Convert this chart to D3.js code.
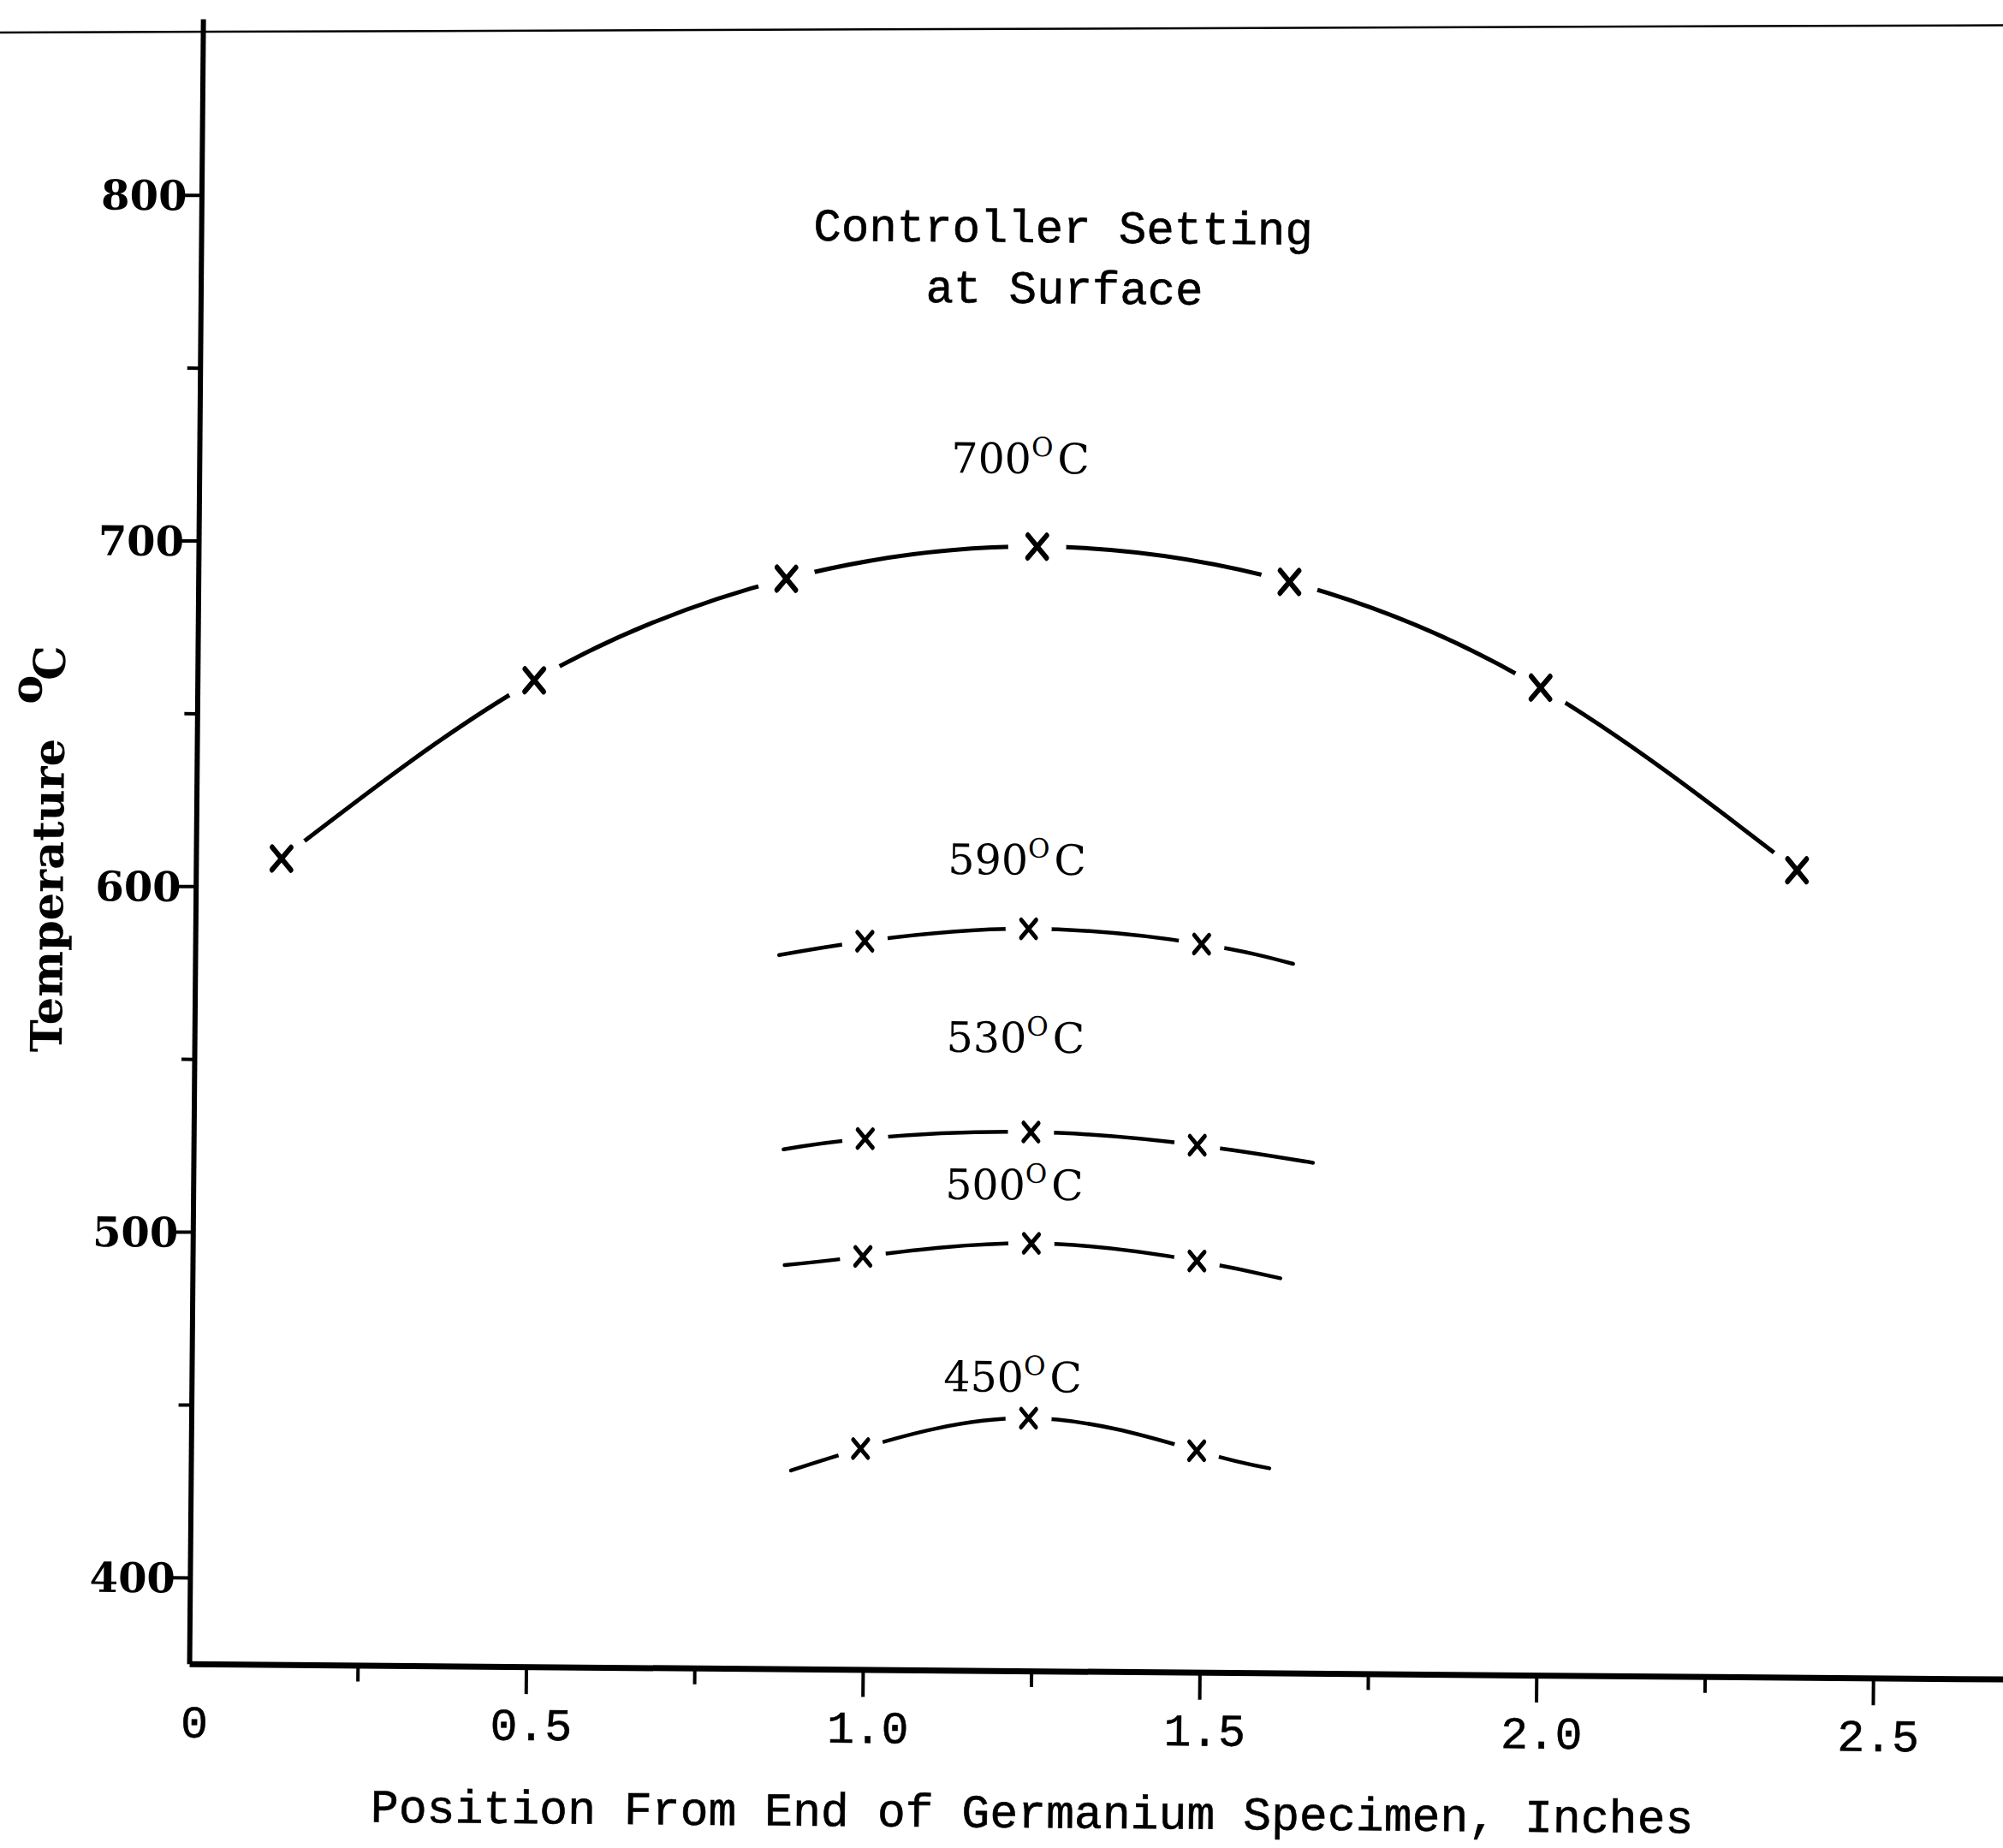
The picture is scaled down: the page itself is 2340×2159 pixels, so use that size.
<!DOCTYPE html>
<html>
<head>
<meta charset="utf-8">
<script src="https://cdn.jsdelivr.net/npm/d3@7"></script>
<style>
  body { margin: 0; background: #fff; }
  svg { display: block; }
</style>
</head>
<body>
<svg id="chart"></svg>
<script>
// readings: position (inches) and temperature (deg C)
const pos700 = [0.127, 0.5, 0.873, 1.245, 1.62, 1.994, 2.377]
const temp700 = [608.2, 660.4, 690.4, 700.3, 690.7, 660.7, 608.5]

const pos590 = [0.994, 1.237, 1.494]
const temp590 = [585.7, 589.7, 585.7]
const ends590 = [[0.867, 581.5], [1.630, 580.2]]

const pos530 = [0.997, 1.243, 1.490]
const temp530 = [528.6, 530.9, 527.5]
const ends530 = [[0.876, 525.3], [1.662, 522.7]]

const pos500 = [0.995, 1.245, 1.491]
const temp500 = [494.5, 498.7, 494.0]
const ends500 = [[0.879, 491.8], [1.615, 489.2]]

const pos450 = [0.994, 1.243, 1.493]
const temp450 = [438.9, 448.1, 439.1]
const ends450 = [[0.891, 432.4], [1.601, 434.2]]

const settings = ['700', '590', '530', '500', '450']
const labelPos = [1.219, 1.219, 1.219, 1.219, 1.219]
const labelTemp = [721.5, 605.4, 553.9, 511.3, 455.7]

const xMajorTicks = [0, 0.5, 1.0, 1.5, 2.0, 2.5]
const xMinorTicks = [0.25, 0.75, 1.25, 1.75, 2.25]
const yMajorTicks = [400, 500, 600, 700, 800]
const yMinorTicks = [450, 550, 650, 750]

const width = 2340
const height = 2159

const svg = d3.select('#chart')
    .attr('width', width)
    .attr('height', height)

svg.append('rect')
    .attr('width', width)
    .attr('height', height)
    .attr('fill', '#fff')

// page edge of the scan, not part of the rotated sheet
svg.append('line')
    .attr('x1', 0).attr('y1', 38)
    .attr('x2', width).attr('y2', 29.5)
    .attr('stroke', '#000')
    .attr('stroke-width', 2.5)

// the sheet was scanned a little crooked
const g = svg.append('g').attr('transform', 'rotate(0.48,1200,1000)')

const x = d3.scaleLinear().domain([0, 2.71]).range([229, 2361.5])
const y = d3.scaleLinear().domain([375, 851]).range([1952, 30])

const serif = "'DejaVu Serif', serif"
const mono = "'Liberation Mono', 'Courier New', monospace"

// x axis
const xAxisG = g.append('g')
    .attr('transform', `translate(0,${y(375)})`)
    .call(d3.axisBottom(x)
        .tickValues(xMajorTicks)
        .tickSize(32)
        .tickSizeOuter(0)
        .tickPadding(16)
        .tickFormat(d => d === 0 ? '0' : d3.format('.1f')(d)))
xAxisG.select('.domain').attr('stroke-width', 7)
xAxisG.selectAll('.tick line').attr('stroke-width', 4)
xAxisG.selectAll('.tick line').filter(d => d === 0).remove()
xAxisG.selectAll('.tick text')
    .attr('dx', 6)
    .style('font-family', mono)
    .style('font-size', '53px')
    .attr('fill', '#000')
    .attr('stroke', '#000')
    .attr('stroke-width', 0.6)

const xMinorG = g.append('g')
    .attr('transform', `translate(0,${y(375)})`)
    .call(d3.axisBottom(x).tickValues(xMinorTicks).tickSize(19).tickFormat(''))
xMinorG.select('.domain').remove()
xMinorG.selectAll('.tick line').attr('stroke-width', 4)

// y axis
const yAxisG = g.append('g')
    .attr('transform', `translate(${x(0)},0)`)
    .call(d3.axisLeft(y)
        .tickValues(yMajorTicks)
        .tickSize(22)
        .tickSizeOuter(0)
        .tickPadding(-5))
yAxisG.select('.domain').attr('stroke-width', 6)
yAxisG.selectAll('.tick line').attr('stroke-width', 4)
yAxisG.selectAll('.tick text')
    .attr('dy', '0.36em')
    .style('font-family', serif)
    .style('font-weight', 'bold')
    .style('font-size', '48px')
    .attr('fill', '#000')

const yMinorG = g.append('g')
    .attr('transform', `translate(${x(0)},0)`)
    .call(d3.axisLeft(y).tickValues(yMinorTicks).tickSize(15).tickFormat(''))
yMinorG.select('.domain').remove()
yMinorG.selectAll('.tick line').attr('stroke-width', 4)

// curves: the line is broken round every plotted point
const series = [
    {pos: pos700, temp: temp700, ends: null, gap: 34, mark: 12, stroke: 5, markStroke: 6},
    {pos: pos590, temp: temp590, ends: ends590, gap: 27, mark: 9.5, stroke: 4.5, markStroke: 5},
    {pos: pos530, temp: temp530, ends: ends530, gap: 27, mark: 9.5, stroke: 4.5, markStroke: 5},
    {pos: pos500, temp: temp500, ends: ends500, gap: 27, mark: 9.5, stroke: 4.5, markStroke: 5},
    {pos: pos450, temp: temp450, ends: ends450, gap: 27, mark: 9.5, stroke: 4.5, markStroke: 5}
]

const mask = g.append('defs').append('mask')
    .attr('id', 'gaps')
    .attr('maskUnits', 'userSpaceOnUse')
    .attr('x', -200).attr('y', -200)
    .attr('width', 2800).attr('height', 2600)
mask.append('rect')
    .attr('x', -200).attr('y', -200)
    .attr('width', 2800).attr('height', 2600)
    .attr('fill', '#fff')

const line = d3.line()
    .x(d => x(d[0]))
    .y(d => y(d[1]))
    .curve(d3.curveNatural)

series.forEach(s => {
    let pts = s.pos.map((p, i) => [p, s.temp[i]])
    s.points = pts
    s.linePts = s.ends ? [s.ends[0]].concat(pts, [s.ends[1]]) : pts

    mask.selectAll(null)
        .data(pts)
        .enter()
        .append('circle')
        .attr('cx', d => x(d[0]))
        .attr('cy', d => y(d[1]))
        .attr('r', s.gap)
        .attr('fill', '#000')
})

const curves = g.append('g').attr('mask', 'url(#gaps)')
curves.selectAll('path')
    .data(series)
    .enter()
    .append('path')
    .attr('d', d => line(d.linePts))
    .attr('fill', 'none')
    .attr('stroke', '#000')
    .attr('stroke-width', d => d.stroke)
    .attr('stroke-linecap', 'round')

series.forEach(s => {
    let r = s.mark
    let size = Math.pow(r / 0.6189, 2) + 1.7
    g.append('g')
        .selectAll('path')
        .data(s.points)
        .enter()
        .append('path')
        .attr('d', d3.symbol().type(d3.symbolX).size(size))
        .attr('transform', d => `translate(${x(d[0])},${y(d[1])}) scale(0.92,1.1)`)
        .attr('fill', 'none')
        .attr('stroke', '#000')
        .attr('stroke-width', s.markStroke)
        .attr('stroke-linecap', 'round')
})

// setting labels
settings.forEach((t, i) => {
    let lbl = g.append('text')
        .attr('x', x(labelPos[i]))
        .attr('y', y(labelTemp[i]))
        .attr('text-anchor', 'middle')
        .style('font-family', serif)
        .style('font-size', '49px')
        .attr('fill', '#000')
    lbl.append('tspan').text(t)
    lbl.append('tspan').attr('dy', -20).style('font-size', '31px').text('O')
    lbl.append('tspan').attr('dy', 20).attr('dx', 5).text('C')
})

// heading
g.append('text')
    .attr('x', 1236)
    .attr('y', 283)
    .attr('text-anchor', 'middle')
    .style('font-family', mono)
    .style('font-size', '54px')
    .attr('stroke', '#000')
    .attr('stroke-width', 0.6)
    .text('Controller Setting')
g.append('text')
    .attr('x', 1238)
    .attr('y', 354)
    .attr('text-anchor', 'middle')
    .style('font-family', mono)
    .style('font-size', '54px')
    .attr('stroke', '#000')
    .attr('stroke-width', 0.6)
    .text('at Surface')

// axis titles
g.append('text')
    .attr('x', 1215)
    .attr('y', 2135)
    .attr('text-anchor', 'middle')
    .style('font-family', mono)
    .style('font-size', '54.8px')
    .attr('stroke', '#000')
    .attr('stroke-width', 0.6)
    .text('Position From End of Germanium Specimen, Inches')

const yTitle = g.append('text')
    .attr('transform', 'translate(74,1239) rotate(-90)')
    .style('font-family', serif)
    .style('font-weight', 'bold')
    .style('font-size', '51px')
yTitle.append('tspan').text('Temperature')
yTitle.append('tspan').attr('dx', 40).attr('dy', -27).text('o')
yTitle.append('tspan').attr('dx', -6).attr('dy', 27).text('C')
</script>
</body>
</html>
